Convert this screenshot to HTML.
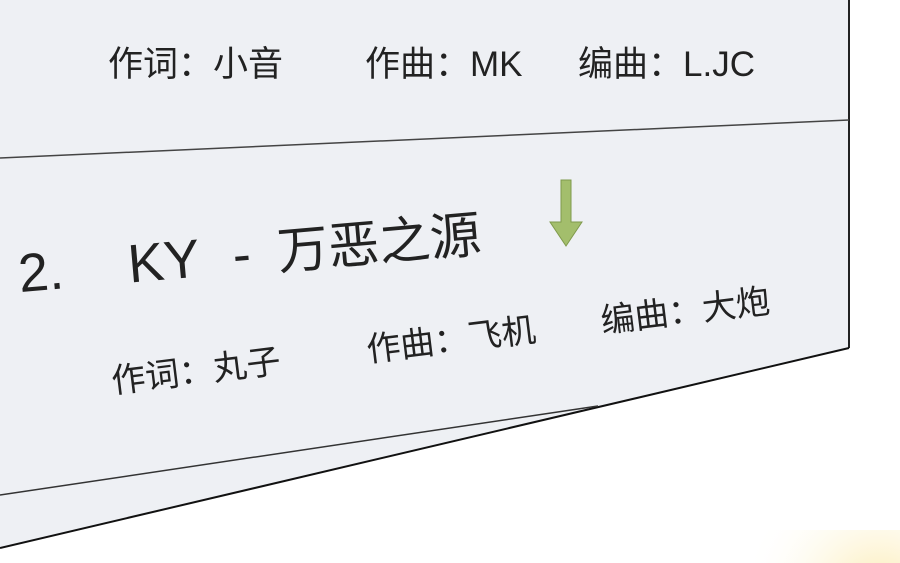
<!DOCTYPE html>
<html><head><meta charset="utf-8"><style>
html,body{margin:0;padding:0;width:900px;height:563px;overflow:hidden;background:#fff}
svg text{font-family:"Liberation Sans","Noto Sans CJK SC",sans-serif;fill:#222}
</style></head><body>
<svg width="900" height="563" viewBox="0 0 900 563" xmlns="http://www.w3.org/2000/svg">
<defs>
<radialGradient id="g" cx="880" cy="600" r="140" gradientUnits="userSpaceOnUse">
<stop offset="0" stop-color="#fbe9a8"/><stop offset="1" stop-color="#fff" stop-opacity="0"/></radialGradient>
</defs>
<rect width="900" height="563" fill="#fff"/>
<rect x="700" y="530" width="200" height="33" fill="url(#g)"/>
<polygon points="0,0 849,0 849,348 0,548" fill="#eef0f4"/>
<line x1="849" y1="0" x2="849" y2="348" stroke="#222" stroke-width="2"/>
<line x1="849" y1="348" x2="0" y2="548" stroke="#111" stroke-width="2"/>
<line x1="598" y1="406" x2="0" y2="495" stroke="#333" stroke-width="1.5"/>
<line x1="0" y1="158" x2="849" y2="120" stroke="#444" stroke-width="1.5"/>
<g font-size="35">
<text x="108" y="76">作词：小音</text>
<text x="365" y="76">作曲：MK</text>
<text x="578" y="76">编曲：L.JC</text>
</g>
<g transform="rotate(-5 22 292)">
<text x="20" y="292" font-size="54">2.</text>
<text x="130" y="292" font-size="54">KY</text>
<text x="235" y="292" font-size="54">-</text>
<text x="280" y="292" font-size="51">万恶之源</text>
</g>
<g transform="rotate(-7 113 393)" font-size="34">
<text x="113" y="393">作词：丸子</text>
<text x="370" y="393">作曲：飞机</text>
<text x="606" y="393">编曲：大炮</text>
</g>
<polygon points="561,180 571,180 571,222 582,222 566,246 550,222 561,222" fill="#a3be6c" stroke="#7f9a4c" stroke-width="1"/>
</svg>
</body></html>
